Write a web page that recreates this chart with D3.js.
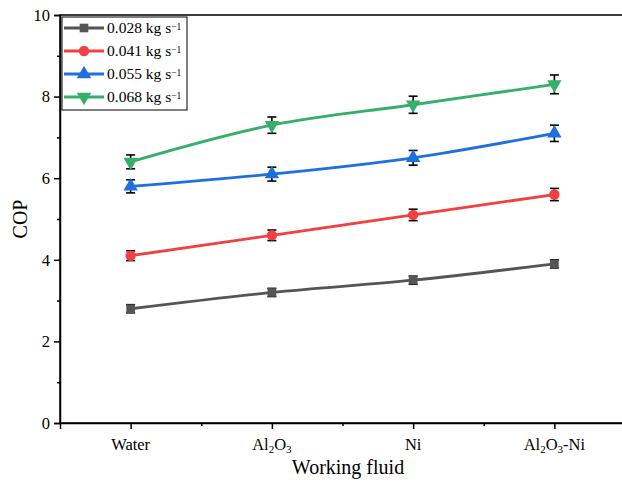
<!DOCTYPE html>
<html>
<head>
<meta charset="utf-8">
<script src="https://cdn.jsdelivr.net/npm/d3@7"></script>
<style>
body { margin: 0; background: #fff; }
svg text { font-family: "Liberation Serif", "Times New Roman", serif; fill: #000; }
</style>
</head>
<body>
<div id="chart"></div>
<script>
var categories = ["Water", "Al2O3", "Ni", "Al2O3-Ni"];
var seriesNames = ["0.028", "0.041", "0.055", "0.068"];
var cop028 = [2.8, 3.2, 3.5, 3.9];
var cop041 = [4.1, 4.6, 5.1, 5.6];
var cop055 = [5.8, 6.1, 6.5, 7.1];
var cop068 = [6.4, 7.3, 7.8, 8.3];
var err028 = [0.1, 0.1, 0.1, 0.1];
var err041 = [0.12, 0.13, 0.14, 0.15];
var err055 = [0.16, 0.17, 0.18, 0.2];
var err068 = [0.17, 0.2, 0.21, 0.23];
var yTicks = [0, 2, 4, 6, 8, 10];

var width = 622, height = 483;
var margin = {left: 60, right: -3, top: 15, bottom: 60};

var colors = ["#555555", "#f23f3f", "#1e6fdf", "#35b06b"];
var shapes = [d3.symbolSquare, d3.symbolCircle, d3.symbolTriangle, "down"];

var series = [
    {name: seriesNames[0], values: cop028, err: err028},
    {name: seriesNames[1], values: cop041, err: err041},
    {name: seriesNames[2], values: cop055, err: err055},
    {name: seriesNames[3], values: cop068, err: err068}
];

var svg = d3.select("#chart").append("svg")
    .attr("width", width)
    .attr("height", height);

var x = d3.scaleLinear()
    .domain([0.5, categories.length + 0.5])
    .range([margin.left, width - margin.right]);

var y = d3.scaleLinear()
    .domain([0, 10])
    .range([height - margin.bottom, margin.top]);

// frame
svg.append("rect")
    .attr("x", margin.left)
    .attr("y", margin.top)
    .attr("width", x.range()[1] - margin.left)
    .attr("height", y(0) - margin.top)
    .attr("fill", "none")
    .attr("stroke", "#000")
    .attr("stroke-width", 1.5);

// x axis
var xAxis = svg.append("g")
    .attr("transform", "translate(0," + y(0) + ")")
    .call(d3.axisBottom(x)
        .tickValues(d3.range(1, categories.length + 1))
        .tickSize(6)
        .tickFormat(""));
xAxis.select(".domain").attr("stroke-width", 1.5);
xAxis.selectAll(".tick line").attr("stroke-width", 1.5);

svg.append("g")
    .attr("transform", "translate(0," + y(0) + ")")
    .call(d3.axisBottom(x)
        .tickValues(d3.range(1.5, categories.length, 1))
        .tickSize(3)
        .tickFormat(""))
    .call(function (g) { g.select(".domain").remove(); })
    .selectAll(".tick line").attr("stroke-width", 1.5);

// x labels with subscripts
categories.forEach(function (c, i) {
    var t = svg.append("text")
        .attr("x", x(i + 1))
        .attr("y", y(0) + 27)
        .attr("text-anchor", "middle")
        .attr("font-size", 16.5);
    var parts = c.split(/(\d)/);
    parts.forEach(function (p) {
        if (p === "") return;
        if (/\d/.test(p)) {
            t.append("tspan").attr("baseline-shift", "-25%").attr("font-size", 11).text(p);
        } else {
            t.append("tspan").text(p);
        }
    });
});

// y axis
var yAxis = svg.append("g")
    .attr("transform", "translate(" + margin.left + ",0)")
    .call(d3.axisLeft(y)
        .tickValues(yTicks)
        .tickSize(6)
        .tickPadding(4));
yAxis.select(".domain").attr("stroke-width", 1.5);
yAxis.selectAll(".tick line").attr("stroke-width", 1.5);
yAxis.selectAll("text")
    .attr("font-size", 16.5);

svg.append("g")
    .attr("transform", "translate(" + margin.left + ",0)")
    .call(d3.axisLeft(y)
        .tickValues([1, 3, 5, 7, 9])
        .tickSize(3)
        .tickFormat(""))
    .call(function (g) { g.select(".domain").remove(); })
    .selectAll(".tick line").attr("stroke-width", 1.5);

// axis titles
svg.append("text")
    .attr("x", 348)
    .attr("y", 474)
    .attr("text-anchor", "middle")
    .attr("font-size", 20)
    .text("Working fluid");

svg.append("text")
    .attr("transform", "translate(27," + y(5) + ") rotate(-90)")
    .attr("text-anchor", "middle")
    .attr("font-size", 20)
    .text("COP");

function marker(sel, k, size) {
    var p = sel.append("path");
    if (shapes[k] === "down") {
        p.attr("d", d3.symbol().type(d3.symbolTriangle).size(size)())
            .attr("transform", "rotate(180)");
    } else {
        p.attr("d", d3.symbol().type(shapes[k]).size(size)());
    }
}

var line = d3.line()
    .x(function (d, i) { return x(i + 1); })
    .y(function (d) { return y(d); })
    .curve(d3.curveCatmullRom.alpha(0.5));

series.forEach(function (s, k) {
    var g = svg.append("g");
    g.append("path")
        .datum(s.values)
        .attr("d", line)
        .attr("fill", "none")
        .attr("stroke", colors[k])
        .attr("stroke-width", 2.8);

    // error bars
    s.values.forEach(function (v, i) {
        var cx = x(i + 1);
        var top = y(v + s.err[i]), bot = y(v - s.err[i]);
        g.append("line").attr("x1", cx).attr("x2", cx).attr("y1", top).attr("y2", bot)
            .attr("stroke", "#000").attr("stroke-width", 1.6);
        [top, bot].forEach(function (yy) {
            g.append("line").attr("x1", cx - 4.5).attr("x2", cx + 4.5).attr("y1", yy).attr("y2", yy)
                .attr("stroke", "#000").attr("stroke-width", 1.6);
        });
    });

    s.values.forEach(function (v, i) {
        var m = g.append("g")
            .attr("transform", "translate(" + x(i + 1) + "," + y(v) + ")")
            .attr("fill", colors[k]);
        marker(m, k, k === 1 ? 85 : (k === 0 ? 75 : 90));
    });
});

// legend
var legend = svg.append("g").attr("transform", "translate(62,17)");
legend.append("rect")
    .attr("x", 0).attr("y", 0)
    .attr("width", 125).attr("height", 93)
    .attr("fill", "#fff")
    .attr("stroke", "#000")
    .attr("stroke-width", 1);

series.forEach(function (s, k) {
    var yy = 11 + k * 23;
    legend.append("line")
        .attr("x1", 2).attr("x2", 42)
        .attr("y1", yy).attr("y2", yy)
        .attr("stroke", colors[k])
        .attr("stroke-width", 2.8);
    var m = legend.append("g")
        .attr("transform", "translate(22," + yy + ")")
        .attr("fill", colors[k]);
    marker(m, k, k === 1 ? 85 : (k === 0 ? 75 : 90));
    var t = legend.append("text")
        .attr("x", 45)
        .attr("y", yy + 5)
        .attr("font-size", 15.5);
    t.append("tspan").text(s.name + " kg s");
    t.append("tspan").attr("baseline-shift", "35%").attr("font-size", 9.5).text("\u22121");
});
</script>
</body>
</html>
